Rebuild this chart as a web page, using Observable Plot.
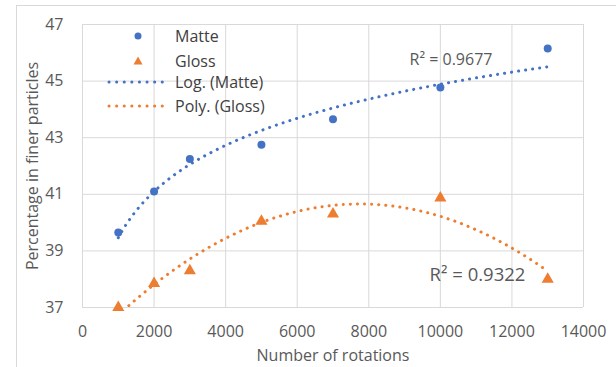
<!DOCTYPE html>
<html>
<head>
<meta charset="utf-8">
<script src="https://cdn.jsdelivr.net/npm/d3@7"></script>
<script src="https://cdn.jsdelivr.net/npm/@observablehq/plot@0.6"></script>
<style>
  html, body { margin: 0; padding: 0; background: #fff; }
  #wrap { position: relative; width: 616px; height: 367px; overflow: hidden; font-family: "Open Sans", sans-serif; }
  #border { position: absolute; left: 16px; top: 5px; width: 700px; height: 500px; border-left: 1px solid #d9d9d9; border-top: 1px solid #d9d9d9; }
  #legend { position: absolute; left: 100px; top: 24px; font-size: 16px; color: #404040; }
  .row { position: absolute; left: 0; height: 24px; width: 200px; }
  .row svg { position: absolute; left: 0; top: 0; }
  .row span { position: absolute; left: 75px; top: 0; line-height: 24px; white-space: nowrap; }
  svg.plot { position: absolute; left: 0; top: 0; }
</style>
</head>
<body>
<div id="wrap">
  <div id="border"></div>
  <div id="chart"></div>
  <div id="legend"></div>
</div>
<script>
// ---- data ----
const rotations = [1000, 2000, 3000, 5000, 7000, 10000, 13000];
const matte = [39.65, 41.1, 42.25, 42.75, 43.65, 44.77, 46.15];
const gloss = [37.0, 37.85, 38.3, 40.05, 40.3, 40.87, 38.0];
const xTicks = [0, 2000, 4000, 6000, 8000, 10000, 12000, 14000];
const yTicks = [37, 39, 41, 43, 45, 47];
const seriesNames = ["Matte", "Gloss", "Log. (Matte)", "Poly. (Gloss)"];
const r2Labels = ["R\u00B2 = 0.9677", "R\u00B2 = 0.9322"];

const blue = "#4472C4", orange = "#ED7D31";

// ---- trendlines (least squares, as the spreadsheet computes them) ----
function logFit(xs, ys) {
  const lx = xs.map(Math.log);
  const n = xs.length;
  const mx = d3.mean(lx), my = d3.mean(ys);
  let sxy = 0, sxx = 0;
  for (let i = 0; i < n; i++) { sxy += (lx[i]-mx)*(ys[i]-my); sxx += (lx[i]-mx)**2; }
  const a = sxy / sxx, b = my - a*mx;
  return x => a*Math.log(x) + b;
}
function polyFit2(xs, ys) {
  const u = xs.map(x => x/1000);
  const S = k => d3.sum(u, v => v**k);
  const T = k => d3.sum(u, (v, i) => v**k * ys[i]);
  const A = [[S(0), S(1), S(2)], [S(1), S(2), S(3)], [S(2), S(3), S(4)]];
  const B = [T(0), T(1), T(2)];
  for (let i = 0; i < 3; i++) {
    for (let j = i+1; j < 3; j++) {
      const f = A[j][i]/A[i][i];
      for (let k = i; k < 3; k++) A[j][k] -= f*A[i][k];
      B[j] -= f*B[i];
    }
  }
  const c = [0,0,0];
  for (let i = 2; i >= 0; i--) {
    let s = B[i];
    for (let k = i+1; k < 3; k++) s -= A[i][k]*c[k];
    c[i] = s/A[i][i];
  }
  return x => { const v = x/1000; return c[0] + c[1]*v + c[2]*v*v; };
}
const fLog = logFit(rotations, matte);
const fPoly = polyFit2(rotations, gloss);
const xs = d3.range(rotations[0], rotations[rotations.length-1] + 1, 100);
const logLine = xs.map(x => ({x, y: fLog(x)}));
const polyLine = xs.map(x => ({x, y: fPoly(x)}));

const matteData = rotations.map((x, i) => ({x, y: matte[i]}));
const glossData = rotations.map((x, i) => ({x, y: gloss[i]}));

const grey = "#595959";
const chart = Plot.plot({
  width: 616, height: 367,
  marginLeft: 82, marginRight: 33, marginTop: 24, marginBottom: 60,
  style: { fontFamily: "Open Sans, sans-serif", background: "transparent", overflow: "visible" },
  x: { domain: [0, 14000] },
  y: { domain: [37, 47] },
  marks: [
    Plot.ruleY(yTicks, { stroke: "#d9d9d9", strokeWidth: 1 }),
    Plot.ruleX(xTicks, { stroke: "#d9d9d9", strokeWidth: 1 }),
    Plot.axisX({ ticks: xTicks, tickSize: 0, tickPadding: 18, fontSize: 16, fill: grey, tickFormat: d => String(d), label: null }),
    Plot.axisY({ ticks: yTicks, tickSize: 0, tickPadding: 19, fontSize: 16, fill: grey, label: null }),
    Plot.line(logLine, { x: "x", y: "y", stroke: blue, strokeWidth: 3, strokeDasharray: "0.1 7", strokeLinecap: "round", clip: true }),
    Plot.line(polyLine, { x: "x", y: "y", stroke: orange, strokeWidth: 3, strokeDasharray: "0.1 7", strokeLinecap: "round", clip: true }),
    Plot.dot(matteData, { x: "x", y: "y", r: 4, fill: blue, symbol: "circle" }),
    Plot.dot(glossData, { x: "x", y: "y", r: 4.5, fill: orange, symbol: "triangle" }),
    Plot.text([r2Labels[0]], { x: 9140, y: 45.76, text: d => d, textAnchor: "start", fontSize: 16, fill: grey }),
    Plot.text([r2Labels[1]], { x: 9700, y: 38.13, text: d => d, textAnchor: "start", fontSize: 18.5, fill: grey }),
    Plot.text(["Number of rotations"], { frameAnchor: "bottom", dy: 48, text: d => d, lineAnchor: "middle", textAnchor: "middle", fontSize: 16, fill: grey }),
    Plot.text(["Percentage in finer particles"], { frameAnchor: "left", dx: -50, rotate: -90, text: d => d, lineAnchor: "middle", textAnchor: "middle", fontSize: 16, fill: grey })
  ]
});
chart.classList.add("plot");
document.getElementById("chart").appendChild(chart);

// ---- legend ----
const legend = document.getElementById("legend");
const rowsTop = [0, 25, 46, 70];
seriesNames.forEach((name, i) => {
  const row = document.createElement("div");
  row.className = "row";
  row.style.top = rowsTop[i] + "px";
  let sym = "";
  if (i === 0) sym = `<circle cx="38" cy="12" r="3.5" fill="${blue}"/>`;
  if (i === 1) sym = `<path d="M38,7.5 L42.5,15.5 L33.5,15.5 Z" fill="${orange}"/>`;
  if (i === 2) sym = `<line x1="9" x2="64" y1="12" y2="12" stroke="${blue}" stroke-width="3" stroke-dasharray="0.1 7.5" stroke-linecap="round"/>`;
  if (i === 3) sym = `<line x1="9" x2="64" y1="12" y2="12" stroke="${orange}" stroke-width="3" stroke-dasharray="0.1 7.5" stroke-linecap="round"/>`;
  row.innerHTML = `<svg width="70" height="24">${sym}</svg><span>${name}</span>`;
  legend.appendChild(row);
});
</script>
</body>
</html>
